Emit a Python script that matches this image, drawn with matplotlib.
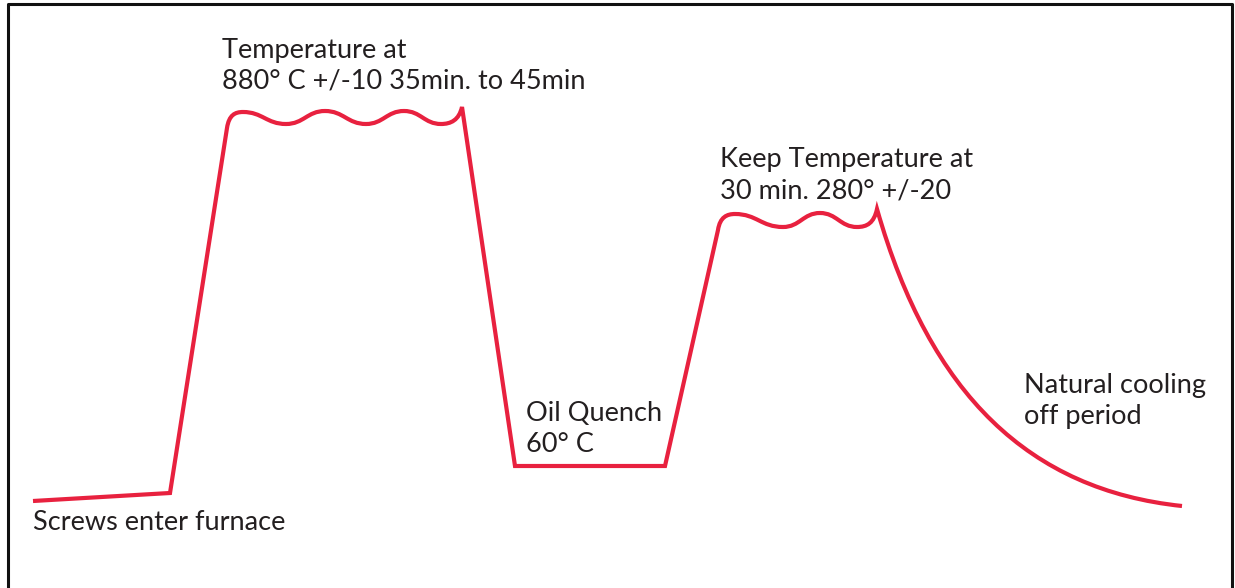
import matplotlib
matplotlib.use("Agg")
import matplotlib.pyplot as plt
from matplotlib.path import Path
from matplotlib.patches import PathPatch

# process curve (x = time, y = image row, top is hot).
ramp_pts = [(33, 501), (170, 493)]
hold1_pts = [(227, 128), (243, 112), (286, 124), (325, 111), (366, 124), (404, 111), (441, 124), (462, 107)]
quench_pts = [(515, 466), (665, 466)]
hold2_pts = [(718, 230), (735, 214), (783, 227), (820, 213), (857, 227), (877, 209)]
cool_ctrl = [(930, 395), (1030, 490), (1182, 506)]

# label lines with left edge and baseline of the first line.
labels = [
    (["Temperature at", "880° C +/-10 35min. to 45min"], 222, 58),
    (["Keep Temperature at", "30 min. 280° +/-20"], 720, 167),
    (["Oil Quench", "60° C"], 526, 421),
    (["Natural cooling", "off period"], 1024, 393),
    (["Screws enter furnace"], 33, 530),
]

RED = "#e8213f"
LINE_STEP = 31


# add a wavy hold plateau as smooth cubic segments with flat tangents.
def add_wave(verts, codes, pts):
    x0, y0 = pts[0]
    verts.append((x0, y0))
    codes.append(Path.LINETO)
    # corner into the first crest.
    x1, y1 = pts[1]
    verts += [(x0 + 2, y1 + 3), (x1 - 8, y1), (x1, y1)]
    codes += [Path.CURVE4] * 3
    for (xa, ya), (xb, yb) in zip(pts[1:-2], pts[2:-1]):
        dx = (xb - xa) * 0.45
        verts += [(xa + dx, ya), (xb - dx, yb), (xb, yb)]
        codes += [Path.CURVE4] * 3
    # final lift to the spike.
    xa, ya = pts[-2]
    xb, yb = pts[-1]
    verts += [(xa + 10, ya), (xb - 3, ya - 4), (xb, yb)]
    codes += [Path.CURVE4] * 3


fig = plt.figure(figsize=(12.35, 5.88), dpi=100)
ax = fig.add_axes([0, 0, 1, 1])
ax.set_xlim(0, 1235)
ax.set_ylim(588, 0)
ax.axis("off")

# outer frame.
ax.plot([8, 8, 1232, 1232], [600, 4, 4, 600], color="#111111", lw=2.2, clip_on=False)

verts = [ramp_pts[0], ramp_pts[1]]
codes = [Path.MOVETO, Path.LINETO]
add_wave(verts, codes, hold1_pts)
for p in quench_pts:
    verts.append(p)
    codes.append(Path.LINETO)
add_wave(verts, codes, hold2_pts)
verts += cool_ctrl
codes += [Path.CURVE4] * 3

ax.add_patch(PathPatch(Path(verts, codes), fill=False, edgecolor=RED, lw=3.0,
                       joinstyle="miter", capstyle="butt"))

for lines, x, y in labels:
    for i, line in enumerate(lines):
        ax.text(x, y + i * LINE_STEP, line, fontsize=19.5, family="Lato",
                color="#231f20", ha="left", va="baseline")

fig.savefig("out.png", dpi=100)
